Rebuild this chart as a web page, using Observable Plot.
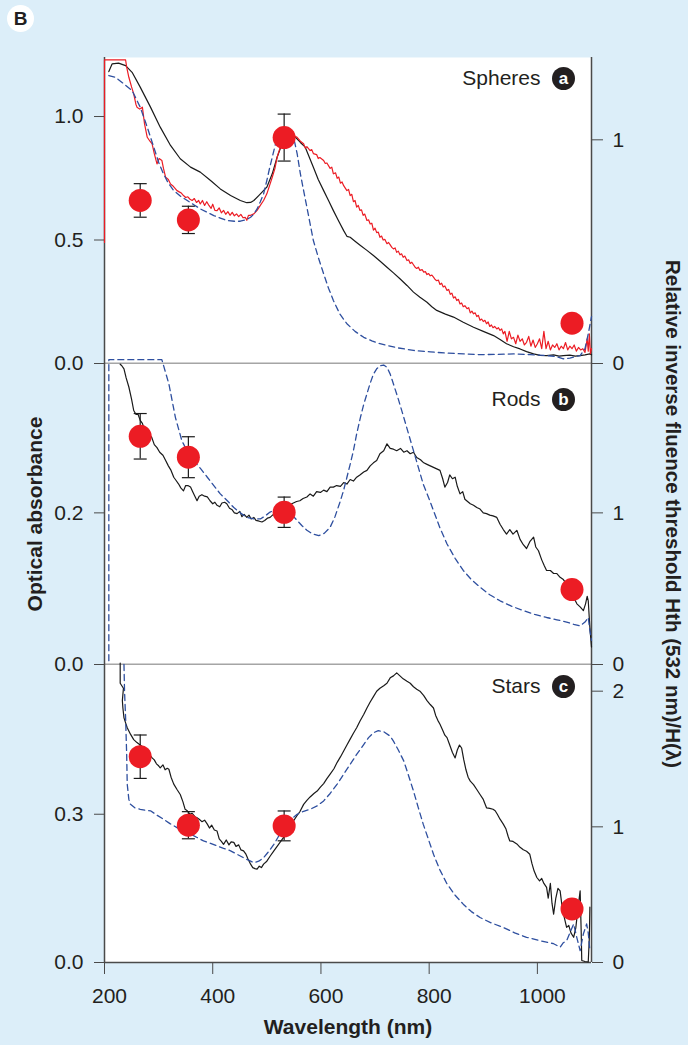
<!DOCTYPE html>
<html><head><meta charset="utf-8">
<script src="https://cdn.jsdelivr.net/npm/d3@7"></script>
<script src="https://cdn.jsdelivr.net/npm/@observablehq/plot@0.6"></script>
<style>
body{margin:0;background:#dceef9;}
#fig{position:relative;width:688px;height:1045px;background:#dceef9;font-family:"Liberation Sans",Arial,sans-serif;overflow:hidden}
#fig svg{position:absolute;left:0;overflow:visible}
#badge{position:absolute;left:7px;top:5px;width:27px;height:27px;border-radius:50%;background:#fff;font:bold 19px "Liberation Sans",Arial,sans-serif;text-align:center;line-height:28px;color:#231f20}
</style></head><body><div id="fig"><div id="badge">B</div></div>
<script>
// ---------- data ----------
const xTicks = [200, 400, 600, 800, 1000];
const dotNm = [266, 355, 532, 1064];

// Spheres (panel a)
const spheresDot = [0.729, 0.642, 1.01, 0.18];
const spheresErr = [0.075, 0.061, 0.105, 0];
const spheresBlack = [[208,1.182],[214,1.213],[226,1.216],[239,1.206],[251,1.179],[266,1.119],[285,1.038],[303,0.957],[322,0.883],[340,0.829],[359,0.795],[377,0.775],[396,0.741],[414,0.707],[433,0.68],[451,0.66],[463,0.651],[470,0.652],[476,0.66],[485,0.68],[500,0.714],[510,0.768],[519,0.835],[528,0.889],[538,0.918],[546,0.923],[553,0.916],[562,0.895],[571,0.876],[586,0.795],[595,0.745],[605,0.7],[614,0.66],[623,0.619],[632,0.58],[642,0.538],[648,0.515],[654,0.511],[663,0.495],[673,0.478],[685,0.458],[697,0.437],[710,0.413],[722,0.39],[734,0.367],[746,0.343],[759,0.316],[771,0.289],[783,0.268],[796,0.248],[805,0.23],[814,0.215],[830,0.2],[845,0.188],[863,0.167],[882,0.147],[900,0.13],[919,0.113],[931,0.097],[943,0.08],[956,0.068],[968,0.059],[980,0.048],[993,0.039],[1005,0.033],[1017,0.032],[1030,0.035],[1040,0.03],[1048,0.032],[1060,0.034],[1070,0.03],[1079,0.032],[1088,0.035],[1097,0.039],[1100,0.035]];
const spheresRed = [[200,0.49],[200,1.229],[239,1.229],[241,1.2],[245,1.159],[250,1.12],[254,1.092],[258,1.05],[260,1.038],[265,1.03],[270,1.038],[274,0.97],[279,0.916],[284,0.9],[288,0.889],[292,0.85],[297,0.808],[301,0.83],[306,0.822],[309,0.79],[313,0.754],[318,0.745],[322,0.727],[326,0.72],[330,0.71],[334,0.7],[338,0.695],[342,0.69],[346,0.68],[350,0.672],[354,0.675],[358,0.665],[362,0.66],[366,0.668],[370,0.652],[374,0.66],[377,0.646],[381,0.66],[385,0.64],[389,0.655],[393,0.64],[397,0.628],[400,0.645],[404,0.62],[408,0.619],[412,0.63],[416,0.61],[420,0.62],[424,0.604],[428,0.615],[432,0.6],[436,0.612],[440,0.598],[444,0.606],[448,0.595],[452,0.604],[456,0.59],[460,0.592],[463,0.58],[466,0.6],[470,0.6],[476,0.606],[482,0.62],[488,0.64],[494,0.66],[500,0.687],[505,0.72],[510,0.754],[515,0.79],[519,0.835],[524,0.87],[528,0.9],[534,0.92],[540,0.93],[548,0.925],[556,0.916],[562,0.9],[568,0.89],[571,0.872],[574,0.878],[580,0.862],[583,0.866],[586,0.85],[592,0.846],[595,0.83],[598,0.834],[605,0.822],[608,0.81],[611,0.812],[617,0.79],[620,0.795],[623,0.768],[627,0.772],[630,0.75],[633,0.755],[636,0.73],[639,0.735],[642,0.72],[645,0.71],[648,0.7],[651,0.705],[654,0.68],[657,0.685],[660,0.655],[663,0.66],[666,0.633],[669,0.64],[672,0.62],[675,0.622],[678,0.6],[681,0.605],[685,0.579],[688,0.582],[691,0.565],[694,0.568],[697,0.54],[700,0.548],[703,0.53],[706,0.532],[709,0.511],[712,0.516],[715,0.5],[718,0.503],[722,0.485],[725,0.49],[728,0.48],[731,0.47],[734,0.464],[737,0.468],[740,0.45],[743,0.455],[746,0.44],[749,0.444],[752,0.43],[755,0.435],[759,0.417],[762,0.42],[765,0.405],[768,0.41],[771,0.4],[774,0.39],[777,0.385],[780,0.39],[783,0.377],[787,0.38],[790,0.37],[793,0.372],[796,0.36],[799,0.364],[802,0.355],[805,0.358],[808,0.35],[811,0.34],[814,0.335],[817,0.338],[820,0.32],[823,0.325],[826,0.31],[829,0.314],[833,0.296],[836,0.3],[839,0.28],[842,0.285],[845,0.265],[848,0.27],[851,0.255],[854,0.26],[857,0.241],[860,0.245],[863,0.23],[866,0.234],[870,0.222],[873,0.226],[876,0.205],[879,0.212],[882,0.201],[885,0.205],[888,0.19],[891,0.195],[894,0.175],[897,0.18],[900,0.17],[903,0.175],[906,0.161],[909,0.168],[912,0.15],[915,0.156],[918,0.145],[921,0.15],[925,0.14],[928,0.145],[931,0.134],[934,0.14],[937,0.12],[940,0.13],[944,0.09],[948,0.13],[952,0.1],[956,0.106],[960,0.08],[964,0.115],[968,0.09],[972,0.1],[976,0.075],[980,0.086],[984,0.11],[988,0.07],[992,0.095],[996,0.065],[1000,0.08],[1004,0.1],[1008,0.06],[1012,0.13],[1016,0.06],[1020,0.09],[1024,0.055],[1028,0.075],[1032,0.065],[1036,0.08],[1040,0.055],[1044,0.07],[1048,0.06],[1052,0.085],[1056,0.055],[1060,0.07],[1064,0.06],[1068,0.075],[1072,0.05],[1076,0.065],[1080,0.055],[1084,0.06],[1088,0.045],[1092,0.1],[1094,0.05],[1096,0.12],[1098,0.04],[1100,0.06]];
const spheresBlue = [[208,1.166],[220,1.159],[236,1.132],[251,1.105],[266,1.038],[279,0.957],[291,0.876],[300,0.815],[309,0.768],[318,0.73],[328,0.7],[340,0.678],[353,0.66],[365,0.643],[377,0.626],[390,0.612],[402,0.599],[414,0.589],[426,0.579],[440,0.576],[451,0.576],[462,0.582],[470,0.592],[476,0.605],[482,0.626],[488,0.655],[494,0.687],[500,0.741],[505,0.79],[510,0.835],[515,0.88],[519,0.916],[525,0.928],[531,0.93],[540,0.93],[546,0.92],[551,0.9],[556,0.85],[562,0.768],[568,0.7],[574,0.633],[580,0.565],[586,0.498],[595,0.43],[605,0.363],[614,0.305],[623,0.255],[635,0.2],[648,0.161],[663,0.13],[679,0.106],[694,0.092],[709,0.08],[740,0.064],[771,0.053],[802,0.047],[833,0.042],[864,0.039],[894,0.036],[925,0.037],[956,0.039],[987,0.036],[1017,0.032],[1035,0.028],[1048,0.019],[1060,0.022],[1070,0.028],[1079,0.032],[1088,0.06],[1094,0.12],[1100,0.19]];

// Rods (panel b)
const rodsDot = [1.505, 1.367, 1.004, 0.494];
const rodsErr = [0.15, 0.135, 0.1, 0];
const rodsBlack = [[229,0.396],[232,0.394],[236,0.39],[240,0.378],[245,0.366],[250,0.35],[254,0.335],[258,0.33],[262,0.33],[266,0.322],[270,0.318],[274,0.31],[278,0.312],[282,0.304],[287,0.3],[292,0.29],[297,0.286],[302,0.28],[308,0.276],[313,0.269],[318,0.262],[323,0.256],[328,0.247],[332,0.243],[337,0.238],[341,0.233],[346,0.229],[350,0.236],[354,0.236],[359,0.234],[363,0.228],[367,0.222],[371,0.216],[375,0.222],[380,0.224],[385,0.222],[390,0.221],[395,0.216],[400,0.212],[404,0.214],[408,0.21],[413,0.208],[417,0.213],[422,0.214],[426,0.212],[431,0.206],[436,0.204],[440,0.2],[445,0.199],[450,0.202],[454,0.195],[458,0.198],[463,0.194],[467,0.197],[471,0.192],[476,0.194],[480,0.19],[486,0.189],[491,0.188],[496,0.19],[501,0.193],[506,0.194],[512,0.198],[518,0.203],[525,0.207],[531,0.21],[537,0.21],[543,0.211],[549,0.213],[555,0.215],[561,0.216],[567,0.219],[574,0.221],[580,0.225],[586,0.222],[592,0.228],[599,0.227],[605,0.23],[611,0.228],[617,0.234],[623,0.234],[629,0.236],[636,0.235],[642,0.24],[648,0.238],[654,0.244],[660,0.242],[666,0.247],[672,0.25],[679,0.254],[685,0.256],[691,0.262],[697,0.266],[703,0.269],[709,0.278],[716,0.282],[722,0.291],[728,0.285],[734,0.284],[740,0.282],[747,0.285],[753,0.28],[759,0.282],[765,0.278],[771,0.28],[777,0.273],[784,0.27],[790,0.266],[796,0.264],[802,0.262],[808,0.26],[814,0.258],[820,0.256],[825,0.245],[829,0.234],[834,0.24],[838,0.25],[843,0.245],[848,0.247],[852,0.235],[857,0.225],[862,0.228],[866,0.218],[871,0.215],[876,0.212],[882,0.21],[888,0.207],[894,0.205],[900,0.2],[906,0.199],[912,0.197],[918,0.196],[925,0.194],[931,0.185],[937,0.178],[943,0.172],[949,0.178],[955,0.172],[962,0.177],[968,0.165],[974,0.158],[980,0.153],[986,0.162],[993,0.168],[997,0.155],[1002,0.15],[1008,0.138],[1013,0.13],[1017,0.124],[1024,0.124],[1030,0.12],[1036,0.12],[1042,0.115],[1048,0.112],[1054,0.106],[1060,0.1],[1066,0.09],[1073,0.08],[1079,0.076],[1085,0.071],[1089,0.08],[1092,0.09],[1094,0.084],[1096,0.06],[1097,0.049],[1100,0.023]];
const rodsBlue = [[208,0.005],[208,0.402],[306,0.402],[319,0.37],[331,0.326],[343,0.295],[354,0.28],[365,0.269],[378,0.258],[390,0.247],[402,0.236],[414,0.225],[427,0.216],[439,0.207],[451,0.2],[463,0.194],[476,0.192],[488,0.192],[497,0.196],[506,0.201],[518,0.205],[531,0.207],[543,0.2],[556,0.19],[565,0.183],[574,0.177],[585,0.172],[596,0.17],[606,0.173],[617,0.181],[626,0.195],[636,0.216],[642,0.23],[648,0.247],[654,0.264],[660,0.282],[666,0.304],[673,0.326],[679,0.343],[685,0.357],[691,0.371],[697,0.383],[703,0.39],[709,0.394],[716,0.395],[722,0.392],[728,0.383],[734,0.37],[743,0.35],[753,0.326],[762,0.304],[771,0.282],[780,0.26],[789,0.238],[799,0.22],[808,0.203],[820,0.18],[833,0.159],[848,0.14],[863,0.124],[878,0.112],[894,0.102],[912,0.092],[931,0.084],[952,0.077],[974,0.071],[995,0.066],[1017,0.062],[1036,0.059],[1054,0.056],[1067,0.053],[1079,0.051],[1088,0.056],[1094,0.062],[1097,0.045],[1100,0.032]];

// Stars (panel c)
const starsDot = [1.517, 1.012, 1.007, 0.395];
const starsErr = [0.16, 0.1, 0.11, 0];
const starsBlack = [[229,0.606],[229,0.565],[235,0.555],[233,0.53],[234,0.515],[236,0.495],[239,0.485],[242,0.475],[248,0.462],[254,0.451],[260,0.445],[266,0.44],[273,0.434],[280,0.425],[288,0.414],[292,0.41],[296,0.402],[300,0.398],[303,0.394],[308,0.4],[312,0.39],[316,0.393],[319,0.391],[323,0.375],[328,0.361],[334,0.35],[340,0.34],[345,0.325],[349,0.31],[353,0.307],[358,0.3],[362,0.302],[367,0.295],[371,0.293],[375,0.29],[380,0.285],[385,0.288],[390,0.28],[394,0.272],[398,0.278],[403,0.268],[408,0.266],[412,0.25],[416,0.245],[420,0.239],[425,0.248],[430,0.238],[434,0.244],[439,0.243],[443,0.235],[448,0.238],[452,0.228],[457,0.226],[461,0.22],[465,0.21],[470,0.199],[474,0.192],[478,0.19],[482,0.189],[486,0.195],[490,0.192],[494,0.199],[500,0.205],[506,0.215],[513,0.226],[519,0.235],[525,0.244],[531,0.253],[537,0.265],[543,0.275],[549,0.286],[555,0.296],[561,0.305],[568,0.32],[574,0.328],[580,0.335],[587,0.342],[593,0.347],[599,0.355],[605,0.362],[611,0.372],[617,0.381],[624,0.392],[630,0.405],[636,0.416],[642,0.428],[648,0.44],[654,0.452],[660,0.464],[666,0.475],[672,0.488],[679,0.502],[685,0.515],[691,0.527],[697,0.538],[703,0.549],[709,0.555],[716,0.56],[722,0.565],[728,0.576],[734,0.58],[740,0.586],[746,0.58],[752,0.574],[759,0.569],[765,0.565],[771,0.558],[777,0.553],[783,0.549],[790,0.54],[796,0.53],[802,0.522],[808,0.515],[812,0.5],[816,0.49],[820,0.482],[825,0.47],[829,0.46],[833,0.455],[838,0.44],[843,0.425],[848,0.414],[852,0.43],[856,0.44],[860,0.434],[864,0.41],[868,0.39],[872,0.375],[876,0.367],[882,0.36],[888,0.35],[894,0.34],[900,0.33],[906,0.313],[912,0.312],[918,0.31],[922,0.307],[926,0.3],[931,0.29],[937,0.28],[942,0.27],[946,0.255],[949,0.246],[955,0.245],[962,0.24],[968,0.233],[974,0.228],[980,0.225],[986,0.219],[990,0.2],[994,0.185],[999,0.172],[1004,0.165],[1008,0.17],[1012,0.16],[1017,0.152],[1020,0.13],[1024,0.16],[1027,0.12],[1030,0.098],[1034,0.13],[1038,0.15],[1042,0.145],[1046,0.11],[1050,0.09],[1054,0.071],[1058,0.075],[1062,0.06],[1067,0.051],[1071,0.07],[1075,0.11],[1079,0.145],[1081,0.06],[1082,0.004],[1088,0.002],[1094,0.001],[1096,0.05],[1097,0.112]];
const starsBlue = [[236,0.603],[237,0.55],[239,0.495],[241,0.42],[242,0.361],[245,0.33],[248,0.32],[256,0.313],[266,0.31],[275,0.308],[285,0.307],[297,0.298],[309,0.29],[321,0.281],[334,0.273],[346,0.266],[359,0.26],[371,0.253],[383,0.246],[396,0.241],[408,0.236],[420,0.231],[433,0.226],[445,0.219],[457,0.212],[466,0.207],[476,0.202],[485,0.205],[494,0.212],[503,0.224],[513,0.239],[522,0.256],[531,0.273],[543,0.288],[556,0.3],[568,0.306],[580,0.31],[593,0.317],[605,0.327],[617,0.342],[630,0.361],[642,0.381],[654,0.401],[666,0.421],[679,0.441],[688,0.455],[697,0.465],[706,0.469],[716,0.467],[728,0.458],[734,0.448],[743,0.43],[753,0.408],[762,0.378],[771,0.347],[780,0.313],[789,0.28],[799,0.248],[808,0.219],[820,0.187],[833,0.159],[848,0.136],[863,0.118],[878,0.103],[894,0.091],[915,0.08],[937,0.071],[958,0.06],[980,0.051],[1005,0.044],[1030,0.038],[1042,0.031],[1048,0.04],[1054,0.044],[1060,0.06],[1067,0.078],[1073,0.05],[1079,0.024],[1085,0.058],[1091,0.078],[1094,0.06],[1097,0.024]];

// ---------- drawing ----------
const AX = "#4a4a4a", TXT = "#231f20", RED = "#ec1c24", BLK = "#1a1a1a", BLUE = "#2e4f9f";
const FONT = '"Liberation Sans", Arial, sans-serif';
const capSymbol = {draw(ctx, size) { const r = Math.sqrt(size / Math.PI); ctx.moveTo(-r, 0); ctx.lineTo(r, 0); }};
const fig = document.getElementById("fig");

function panel(cfg) {
  const k = cfg.k;
  const dots = dotNm.map((nm, i) => ({nm, v: cfg.dot[i], e: cfg.err[i]}));
  const bars = dots.filter(d => d.e > 0);
  const marks = [
    Plot.frame({fill: "white", stroke: null}),
    Plot.ruleY([0], {stroke: AX, strokeWidth: 1.5}),
    Plot.ruleX([xTicks[0]], {stroke: AX, strokeWidth: 1.5}),
    Plot.ruleX([1100], {stroke: AX, strokeWidth: 1.5}),
    Plot.axisY({ticks: cfg.leftTicks, tickFormat: ".1f", anchor: "left", tickSize: 10, tickPadding: 11, fontSize: 21, label: null, stroke: AX, fill: TXT}),
    Plot.axisY({ticks: cfg.rightTicks.map(t => t * k), tickFormat: d => String(Math.round(d / k)), anchor: "right", tickSize: 11, tickPadding: 10, fontSize: 21, label: null, stroke: AX, fill: TXT})
  ];
  for (const ln of cfg.lines) marks.push(Plot.line(ln.data, {x: d => d[0], y: d => d[1], stroke: ln.color, strokeWidth: ln.width, strokeDasharray: ln.dash, curve: "linear"}));
  marks.push(
    Plot.ruleX(bars, {x: "nm", y1: d => (d.v - d.e) * k, y2: d => (d.v + d.e) * k, stroke: BLK, strokeWidth: 1.2}),
    Plot.dot(bars, {x: "nm", y: d => (d.v - d.e) * k, symbol: capSymbol, r: 6.5, stroke: BLK, strokeWidth: 1.2, fill: "none"}),
    Plot.dot(bars, {x: "nm", y: d => (d.v + d.e) * k, symbol: capSymbol, r: 6.5, stroke: BLK, strokeWidth: 1.2, fill: "none"}),
    Plot.dot(dots, {x: "nm", y: d => d.v * k, r: 11.5, fill: RED, stroke: null}),
    Plot.text([cfg.label], {frameAnchor: "top-right", dx: -51, dy: cfg.labelDy, textAnchor: "end", lineAnchor: "middle", fontSize: 21, fill: TXT}),
    Plot.dot([cfg.letter], {frameAnchor: "top-right", dx: -28, dy: cfg.labelDy, r: 11.5, fill: TXT, stroke: null}),
    Plot.text([cfg.letter], {frameAnchor: "top-right", dx: -28, dy: cfg.labelDy, textAnchor: "middle", lineAnchor: "middle", fontSize: 17, fontWeight: "bold", fill: "white"})
  );
  if (cfg.extra) marks.push(...cfg.extra);
  const svg = Plot.plot({
    width: 688, height: cfg.height,
    marginLeft: 104, marginRight: 97, marginTop: cfg.marginTop, marginBottom: cfg.marginBottom,
    x: {domain: [200, 1100], axis: null},
    y: {domain: cfg.domain, axis: null},
    style: {background: "transparent", overflow: "visible", fontFamily: FONT, color: TXT},
    marks
  });
  svg.style.top = cfg.top + "px";
  fig.appendChild(svg);
}

panel({top: 0, height: 363, marginTop: 57, marginBottom: 0, domain: [0, 1.239], leftTicks: [0, 0.5, 1.0], k: 0.9057, rightTicks: [0, 1],
  dot: spheresDot, err: spheresErr, label: "Spheres", letter: "a", labelDy: 21,
  lines: [{data: spheresBlack, color: BLK, width: 1.2}, {data: spheresRed, color: RED, width: 1.2}, {data: spheresBlue, color: BLUE, width: 1.3, dash: "6,4"}]});

panel({top: 363, height: 301, marginTop: 0, marginBottom: 0, domain: [0, 0.397], leftTicks: [0, 0.2], k: 0.2, rightTicks: [0, 1],
  dot: rodsDot, err: rodsErr, label: "Rods", letter: "b", labelDy: 36,
  lines: [{data: rodsBlack, color: BLK, width: 1.2}, {data: rodsBlue, color: BLUE, width: 1.3, dash: "6,4"}],
  extra: [
    Plot.text(["Optical absorbance"], {frameAnchor: "left", dx: -69, rotate: -90, textAnchor: "middle", lineAnchor: "middle", fontSize: 21, fontWeight: "bold", fill: TXT}),
    Plot.text(["Relative inverse fluence threshold Hth (532 nm)/H(λ)"], {frameAnchor: "right", dx: 81, rotate: 90, textAnchor: "middle", lineAnchor: "middle", fontSize: 20.5, fontWeight: "bold", fill: TXT})
  ]});

panel({top: 664, height: 381, marginTop: 0, marginBottom: 83, domain: [0, 0.603], leftTicks: [0, 0.3], k: 0.2745, rightTicks: [0, 1, 2],
  dot: starsDot, err: starsErr, label: "Stars", letter: "c", labelDy: 22,
  lines: [{data: starsBlack, color: BLK, width: 1.2}, {data: starsBlue, color: BLUE, width: 1.3, dash: "6,4"}],
  extra: [
    Plot.axisX({ticks: xTicks, tickSize: 12, tickFormat: () => "", label: null, stroke: AX}),
    Plot.axisX({ticks: xTicks, tickSize: 0, tickPadding: 26, dx: 5, fontSize: 21, label: null, fill: TXT, tickFormat: d => String(d)}),
    Plot.text(["Wavelength (nm)"], {frameAnchor: "bottom", dy: 65, textAnchor: "middle", lineAnchor: "middle", fontSize: 21, fontWeight: "bold", fill: TXT})
  ]});
</script></body></html>
